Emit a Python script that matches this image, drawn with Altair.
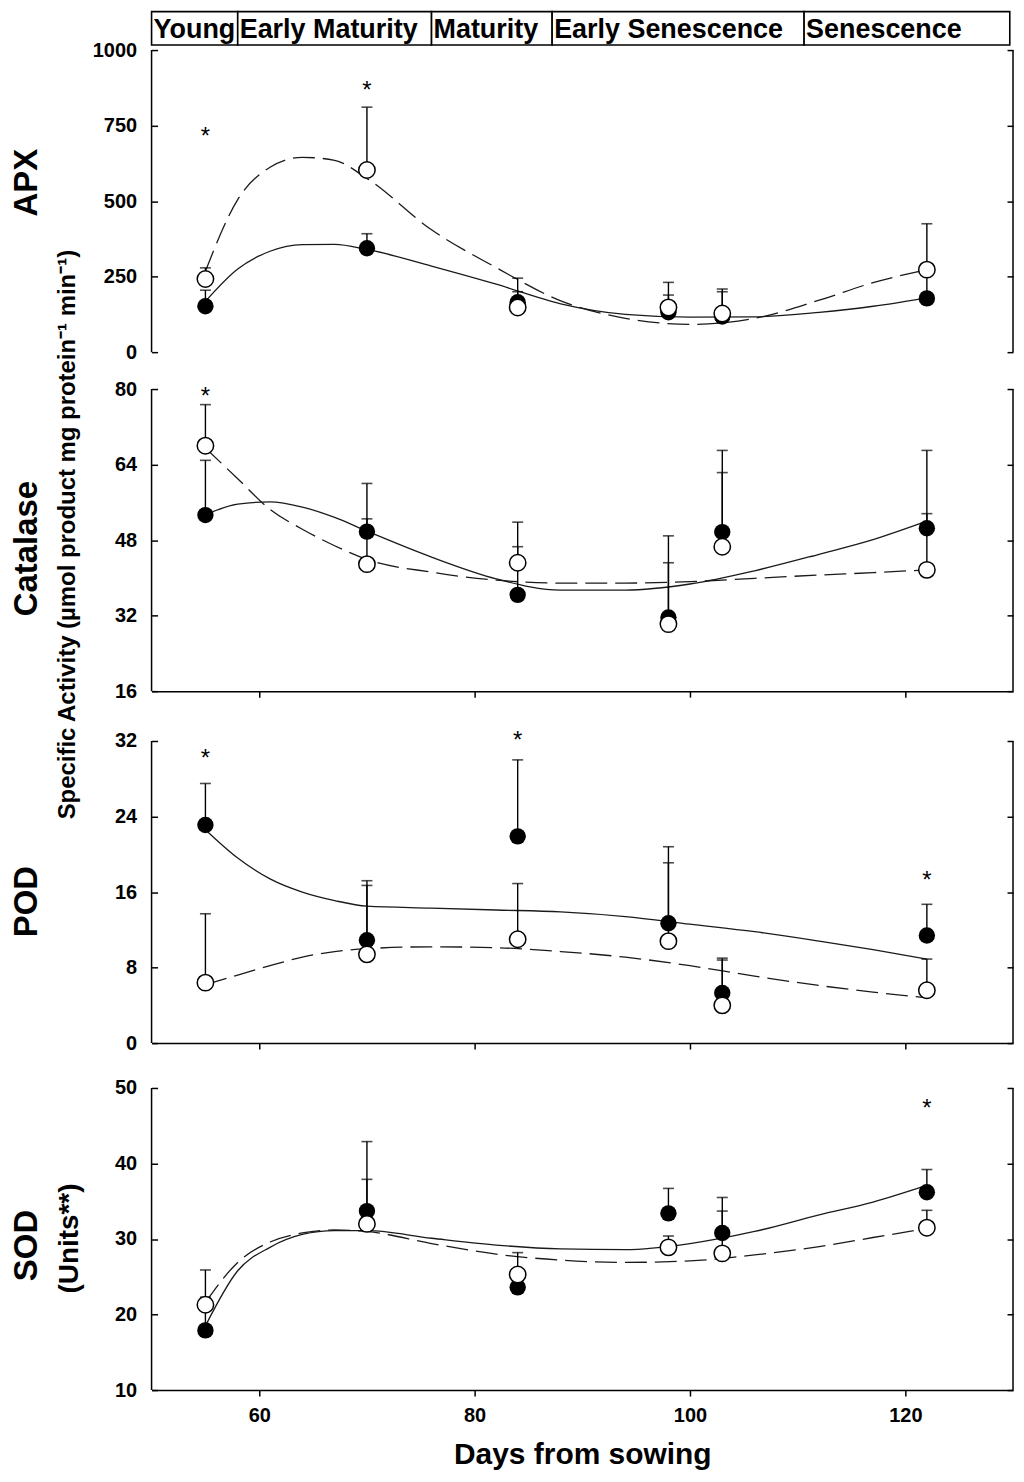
import pandas as pd
import altair as alt

# sampling days and fitted-curve read-off days
days = [55, 70, 84, 98, 103, 122]
curve_days = [55, 58, 61, 64, 67, 70, 76, 82, 88, 94, 100, 106, 112, 117, 122]

phase_names = ["Young", "Early Maturity", "Maturity", "Early Senescence", "Senescence"]
phase_start = [50, 58, 76, 87.2, 110.6]
phase_end = [58, 76, 87.2, 110.6, 129.7]

# APX
apx_filled = [152, 344, 165, 132, 118, 178]
apx_filled_se = [53, 48, 35, 57, 82, 77]
apx_open = [242, 603, 148, 148, 128, 273]
apx_open_se = [37, 208, 97, 83, 81, 152]
apx_fit_filled = [168, 275, 334, 356, 357, 340, 285, 225, 160, 125, 116, 117, 132, 152, 180]
apx_fit_open = [268, 505, 612, 645, 635, 575, 405, 280, 170, 112, 92, 112, 172, 230, 273]
apx_star_days = [55, 70]
apx_star_y = [732, 884]

# Catalase
cat_filled = [53.3, 49.8, 36.4, 31.6, 49.7, 50.5]
cat_filled_se = [11.6, 10.2, 10.2, 17.3, 17.3, 16.5]
cat_open = [68.0, 42.9, 43.2, 30.2, 46.6, 41.7]
cat_open_se = [8.7, 9.6, 8.6, 13.0, 15.7, 11.9]
cat_fit_filled = [53.4, 55.6, 56.1, 55.0, 52.8, 49.9, 44.4, 39.8, 37.4, 37.4, 38.7, 41.5, 45.0, 48.1, 52.0]
cat_fit_open = [67.5, 61.0, 54.5, 50.3, 46.8, 43.9, 41.2, 39.5, 38.9, 38.9, 39.2, 39.9, 40.6, 41.1, 41.7]
cat_star_days = [55]
cat_star_y = [79.5]

# POD
pod_filled = [23.1, 10.9, 21.9, 12.7, 5.3, 11.4]
pod_filled_se = [4.4, 6.3, 8.1, 8.1, 3.7, 3.3]
pod_open = [6.4, 9.4, 11.0, 10.8, 4.0, 5.6]
pod_open_se = [7.3, 7.3, 5.9, 8.3, 4.8, 3.3]
pod_fit_filled = [22.6, 19.6, 17.4, 16.0, 15.1, 14.5, 14.3, 14.1, 13.9, 13.4, 12.6, 11.8, 10.8, 9.9, 8.9]
pod_fit_open = [6.2, 7.2, 8.2, 9.1, 9.7, 10.0, 10.2, 10.1, 9.7, 9.1, 8.2, 7.1, 6.1, 5.4, 4.8]
pod_star_days = [55, 84, 122]
pod_star_y = [30.7, 32.6, 17.8]

# SOD
sod_filled = [17.9, 33.7, 23.6, 33.4, 30.8, 36.2]
sod_filled_se = [4.4, 9.2, 1.5, 3.3, 4.7, 3.0]
sod_open = [21.3, 32.0, 25.3, 28.9, 28.1, 31.5]
sod_open_se = [4.6, 5.9, 2.9, 1.5, 5.6, 2.3]
sod_fit_filled = [18.5, 25.8, 28.9, 30.6, 31.1, 31.1, 30.1, 29.2, 28.7, 28.6, 29.4, 31.0, 33.2, 34.9, 37.1]
sod_fit_open = [21.6, 26.9, 29.6, 30.8, 31.2, 31.0, 29.4, 28.0, 27.2, 26.9, 27.1, 27.9, 29.0, 30.2, 31.4]
sod_star_days = [122]
sod_star_y = [48.0]

FONT = "Liberation Sans"
W = 864
H = 303
xscale = alt.Scale(domain=[50, 130], nice=False, zero=False)


def x_enc(bottom):
    if bottom:
        ax = alt.Axis(values=[60, 80, 100, 120], title="Days from sowing", grid=False,
                      domainColor="black", domainWidth=1.5, tickColor="black", tickWidth=1.5,
                      tickSize=6, labelFont=FONT, labelFontSize=20, labelFontWeight="bold",
                      labelColor="black", labelPadding=10, titleFont=FONT, titleFontSize=30,
                      titleFontWeight="bold", titleColor="black", titlePadding=14)
    else:
        ax = alt.Axis(values=[60, 80, 100, 120], title=None, labels=False, grid=False,
                      domainColor="black", domainWidth=1.5, tickColor="black", tickWidth=1.5,
                      tickSize=6)
    return alt.X("day:Q", scale=xscale, axis=ax)


def panel(filled, filled_se, opened, opened_se, fit_filled, fit_open, star_days, star_y,
          ydomain, yticks, label, label_y, pad=0, bottom=False, header=False, extras=()):
    yscale = alt.Scale(domain=ydomain, range=[H + pad, pad], nice=False, zero=False)
    left_axis = alt.Axis(values=yticks, orient="left", offset=-6, domain=False, tickSize=6,
                         tickWidth=1.5, tickColor="black", labelFont=FONT, labelFontSize=20,
                         labelFontWeight="bold", labelColor="black", labelPadding=15,
                         labelFlush=False, format="d", title=None, grid=False)
    right_axis = alt.Axis(values=yticks, orient="right", offset=-6, domain=False, labels=False,
                          tickSize=6, tickWidth=1.5, tickColor="black", title=None, grid=False)
    xe = x_enc(bottom)

    err = pd.DataFrame({
        "day": days + days,
        "value": filled + opened,
        "top": [v + e for v, e in zip(filled, filled_se)] + [v + e for v, e in zip(opened, opened_se)],
    })
    fit = pd.DataFrame({"day": curve_days, "solid": fit_filled, "dashed": fit_open})
    pf = pd.DataFrame({"day": days, "v": filled})
    po = pd.DataFrame({"day": days, "v": opened})
    stars = pd.DataFrame({"day": star_days, "v": star_y})
    one = pd.DataFrame({"k": [0]})

    layers = []
    layers.append(alt.Chart(fit).mark_line(color="#1a1a1a", strokeWidth=1.3, interpolate="monotone")
                  .encode(x=xe, y=alt.Y("solid:Q", scale=yscale, axis=None)))
    layers.append(alt.Chart(fit).mark_line(color="#1a1a1a", strokeWidth=1.3, interpolate="monotone",
                                           strokeDash=[22, 8])
                  .encode(x=xe, y=alt.Y("dashed:Q", scale=yscale, axis=None)))
    layers.append(alt.Chart(err).mark_rule(color="black", strokeWidth=1.4)
                  .encode(x=xe, y=alt.Y("value:Q", scale=yscale, axis=left_axis), y2="top:Q"))
    layers.append(alt.Chart(err).mark_tick(color="black", orient="horizontal", size=11, thickness=1.6)
                  .encode(x=xe, y=alt.Y("top:Q", scale=yscale, axis=right_axis)))
    layers.append(alt.Chart(pf).mark_point(shape="circle", filled=True, color="black", size=270, opacity=1)
                  .encode(x=xe, y=alt.Y("v:Q", scale=yscale, axis=None)))
    layers.append(alt.Chart(po).mark_point(shape="circle", filled=True, fill="white", stroke="black",
                                           strokeWidth=1.5, size=270, opacity=1)
                  .encode(x=xe, y=alt.Y("v:Q", scale=yscale, axis=None)))
    layers.append(alt.Chart(stars).mark_text(text="*", fontSize=24, font=FONT, color="black",
                                             baseline="alphabetic", dy=13)
                  .encode(x=xe, y=alt.Y("v:Q", scale=yscale, axis=None)))
    layers.append(alt.Chart(one).mark_text(text=label, angle=270, fontSize=33, fontWeight="bold",
                                           font=FONT, color="black", baseline="middle", align="center")
                  .encode(x=alt.value(-125), y=alt.value(label_y + pad)))
    for txt, xv, yv, fs in extras:
        layers.append(alt.Chart(one).mark_text(text=txt, angle=270, fontSize=fs, fontWeight="bold",
                                               font=FONT, color="black", baseline="middle",
                                               align="center")
                      .encode(x=alt.value(xv), y=alt.value(yv + pad)))
    # frame: left and right borders of the plot area
    layers.append(alt.Chart(one).mark_rule(color="black", strokeWidth=1.5)
                  .encode(x=alt.value(0), y=alt.value(pad), y2=alt.value(H + pad)))
    layers.append(alt.Chart(one).mark_rule(color="black", strokeWidth=1.5)
                  .encode(x=alt.value(W), y=alt.value(pad), y2=alt.value(H + pad)))

    if header:
        hdr = pd.DataFrame({"phase": phase_names, "start": phase_start, "end": phase_end})
        layers.append(alt.Chart(hdr).mark_rect(fill="white", stroke="black", strokeWidth=1.6)
                      .encode(x=alt.X("start:Q", scale=xscale, axis=None), x2="end:Q",
                              y=alt.value(-38.5), y2=alt.value(-5)))
        layers.append(alt.Chart(hdr).mark_text(align="left", baseline="alphabetic", dx=2,
                                               fontSize=27, fontWeight="bold", font=FONT,
                                               color="black")
                      .encode(x=alt.X("start:Q", scale=xscale, axis=None),
                              y=alt.value(-12), text="phase:N"))

    return (alt.layer(*layers).resolve_axis(y="independent")
            .properties(width=W, height=H + pad, view=alt.ViewBackground(stroke=None, fill="white")))


apx = panel(apx_filled, apx_filled_se, apx_open, apx_open_se, apx_fit_filled, apx_fit_open,
            apx_star_days, apx_star_y, [0, 1000], [0, 250, 500, 750, 1000], "APX", 133,
            header=True)
cat = panel(cat_filled, cat_filled_se, cat_open, cat_open_se, cat_fit_filled, cat_fit_open,
            cat_star_days, cat_star_y, [16, 80], [16, 32, 48, 64, 80], "Catalase", 160,
            extras=[("Specific Activity (\u00b5mol product mg protein\u207b\u00b9 min\u207b\u00b9)",
                     -84, 146, 24)])
pod = panel(pod_filled, pod_filled_se, pod_open, pod_open_se, pod_fit_filled, pod_fit_open,
            pod_star_days, pod_star_y, [0, 32], [0, 8, 16, 24, 32], "POD", 161, pad=13)
sod = panel(sod_filled, sod_filled_se, sod_open, sod_open_se, sod_fit_filled, sod_fit_open,
            sod_star_days, sod_star_y, [10, 50], [10, 20, 30, 40, 50], "SOD", 158, pad=8,
            bottom=True, extras=[("(Units**)", -82, 151, 28)])

chart = (alt.vconcat(apx, cat, pod, sod, spacing=37, bounds="flush",
                     padding={"left": 3, "top": 0, "right": 2, "bottom": 0})
         .configure_view(stroke=None)
         .configure_axis(grid=False)
         .configure(background="white"))

chart.save("out.html", embed_options={"renderer": "svg", "actions": False})
